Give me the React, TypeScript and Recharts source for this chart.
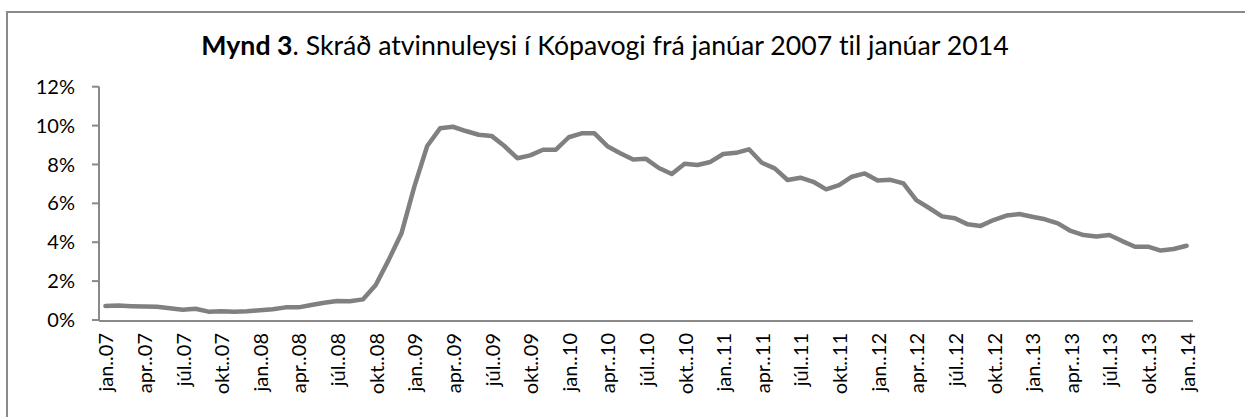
import React from "react";
import { LineChart, Line, XAxis, YAxis } from "recharts";

// Monthly registered unemployment in Kópavogur, jan 2007 – jan 2014 (%)
const monthNames = ["jan.", "feb.", "mar.", "apr.", "maí.", "jún.", "júl.", "ágú.", "sep.", "okt.", "nóv.", "des."];
const years = ["07", "08", "09", "10", "11", "12", "13", "14"];

const unemployment = [
  0.72, 0.74, 0.71, 0.69, 0.68, 0.6, 0.53, 0.58, 0.43, 0.45, 0.42, 0.45,
  0.5, 0.55, 0.65, 0.65, 0.77, 0.89, 0.98, 0.96, 1.06, 1.8, 3.08, 4.46,
  6.86, 8.95, 9.86, 9.94, 9.72, 9.53, 9.47, 8.95, 8.32, 8.47, 8.76, 8.76,
  9.4, 9.6, 9.6, 8.94, 8.58, 8.25, 8.29, 7.82, 7.51, 8.04, 7.97, 8.13,
  8.54, 8.6, 8.78, 8.09, 7.8, 7.2, 7.32, 7.11, 6.72, 6.94, 7.37, 7.54,
  7.18, 7.21, 7.03, 6.17, 5.76, 5.33, 5.23, 4.92, 4.84, 5.14, 5.37, 5.45,
  5.31, 5.18, 4.97, 4.58, 4.37, 4.29, 4.37, 4.06, 3.77, 3.77, 3.57, 3.65,
  3.82,
];

const yTicks = [0, 2, 4, 6, 8, 10, 12];

const categories = unemployment.map((_, i) => {
  const m = monthNames[i % 12];
  const y = years[Math.floor(i / 12)];
  return `${m}.${y}`;
});

const data = unemployment.map((v, i) => ({ idx: i, label: categories[i], value: v }));

const n = unemployment.length;
const boundaryTicks = Array.from({ length: Math.floor((n - 1) / 3) + 1 }, (_, k) => k * 3 - 0.5).filter((t) => t < n - 0.5);
const labelTicks = Array.from({ length: Math.floor((n - 1) / 3) + 1 }, (_, k) => k * 3);

const FONT = "Lato, 'Open Sans', sans-serif";
const AXIS = "#898989";

const XLabel = (props: any) => {
  const { x, y, payload } = props;
  const text = categories[payload.value] ?? "";
  return (
    <text
      x={x}
      y={y}
      transform={`rotate(-90, ${x}, ${y})`}
      textAnchor="end"
      dominantBaseline="central"
      fontFamily={FONT}
      fontSize={20}
      fill="#000"
      style={{ fontVariantLigatures: "none" }}
    >
      {text}
    </text>
  );
};

export default function App() {
  return (
    <div style={{ position: "absolute", left: 0, top: 0, width: 1245, height: 417, overflow: "hidden", background: "#fff" }}>
      <div
        style={{
          position: "absolute",
          left: 6,
          top: 11,
          width: 1300,
          height: 500,
          borderTop: `2px solid ${AXIS}`,
          borderLeft: `2px solid ${AXIS}`,
        }}
      />
      <div
        style={{
          position: "absolute",
          left: 0,
          width: 1210,
          top: 29,
          textAlign: "center",
          fontFamily: FONT,
          fontSize: 26.7,
          color: "#000",
          whiteSpace: "nowrap",
          fontVariantLigatures: "none",
        }}
      >
        <b>Mynd 3</b>. Skráð atvinnuleysi í Kópavogi frá janúar 2007 til janúar 2014
      </div>
      <div style={{ position: "absolute", left: 0, top: 0 }}>
        <LineChart width={1245} height={417} data={data} margin={{ top: 86.7, right: 52, bottom: 95, left: 39 }}>
          <XAxis
            xAxisId="ticks"
            type="number"
            dataKey="idx"
            domain={[-0.5, n - 0.5]}
            ticks={boundaryTicks}
            interval={0}
            height={1}
            tick={false}
            tickSize={6}
            stroke={AXIS}
            strokeWidth={2}
            allowDataOverflow
          />
          <XAxis
            xAxisId="labels"
            type="number"
            dataKey="idx"
            domain={[-0.5, n - 0.5]}
            ticks={labelTicks}
            interval={0}
            height={1}
            axisLine={false}
            tickLine={false}
            tickSize={0}
            tickMargin={13}
            tick={<XLabel />}
            allowDataOverflow
          />
          <YAxis
            type="number"
            domain={[0, 12]}
            ticks={yTicks}
            interval={0}
            width={60}
            stroke={AXIS}
            strokeWidth={2}
            tickSize={7}
            tickMargin={17}
            tickFormatter={(v: number) => `${v}%`}
            tick={{ fontFamily: FONT, fontSize: 20, fill: "#000" }}
          />
          <Line
            xAxisId="ticks"
            type="linear"
            dataKey="value"
            stroke="#808080"
            strokeWidth={4.5}
            dot={false}
            strokeLinejoin="round"
            strokeLinecap="round"
            isAnimationActive={false}
          />
        </LineChart>
      </div>
    </div>
  );
}
